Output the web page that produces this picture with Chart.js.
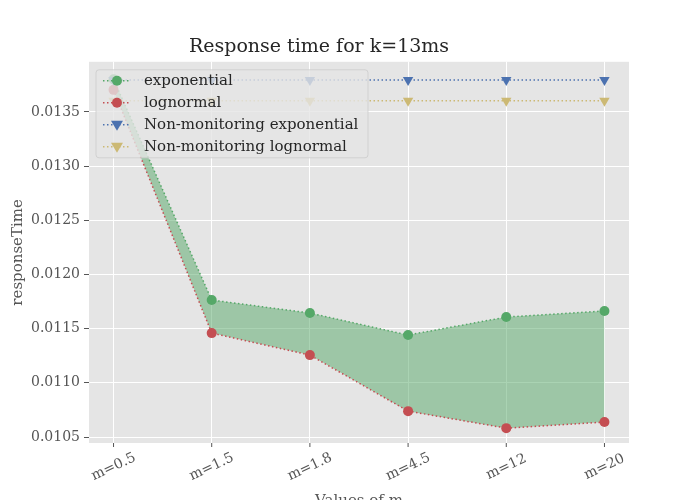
<!DOCTYPE html>
<html>
<head>
<meta charset="utf-8">
<script src="https://cdn.jsdelivr.net/npm/chart.js@4/dist/chart.umd.min.js"></script>
<style>
  body { margin: 0; background: #fff; }
  #wrap { width: 700px; height: 500px; }
</style>
</head>
<body>
<div id="wrap"><canvas id="chart"></canvas></div>
<script>
const categories = ['m=0.5', 'm=1.5', 'm=1.8', 'm=4.5', 'm=12', 'm=20'];
const exponential = [0.01380, 0.011764, 0.011644, 0.011441, 0.011607, 0.011663];
const lognormal = [0.013703, 0.011459, 0.011256, 0.010739, 0.010582, 0.010638];
const nonMonExp = [0.013795, 0.013795, 0.013795, 0.013795, 0.013795, 0.013795];
const nonMonLog = [0.013602, 0.013602, 0.013602, 0.013602, 0.013602, 0.013602];
const yTicks = [0.0105, 0.0110, 0.0115, 0.0120, 0.0125, 0.0130, 0.0135];

const FONT = "'DejaVu Serif', serif";
const pts = arr => arr.map((v, i) => ({ x: i, y: v }));

// plot background
const bgPlugin = {
    id: 'bg',
    beforeDraw(chart) {
        const { ctx, chartArea: a } = chart;
        ctx.save();
        ctx.fillStyle = '#E5E5E5';
        ctx.fillRect(a.left, a.top, a.right - a.left, a.bottom - a.top);
        ctx.restore();
    }
};

// legend inside the plot and rotated x labels, like matplotlib
const legendPlugin = {
    id: 'innerLegend',
    afterDraw(chart) {
        const { ctx, chartArea: a } = chart;
        const xs = chart.scales.x;
        ctx.save();
        // x tick labels, rotated about their centre
        ctx.fillStyle = '#555';
        ctx.font = '14px ' + FONT;
        ctx.textAlign = 'center';
        ctx.textBaseline = 'middle';
        categories.forEach((c, i) => {
            const px = xs.getPixelForValue(i);
            ctx.strokeStyle = '#555';
            ctx.lineWidth = 1;
            ctx.beginPath();
            ctx.moveTo(px, a.bottom);
            ctx.lineTo(px, a.bottom + 4);
            ctx.stroke();
            ctx.save();
            ctx.translate(px, a.bottom + 24);
            ctx.rotate(-25 * Math.PI / 180);
            ctx.fillText(c, 0, 0);
            ctx.restore();
        });
        ctx.textBaseline = 'top';
        ctx.font = '15px ' + FONT;
        ctx.fillText('Values of m', (a.left + a.right) / 2, 494);

        const x = a.left + 7, y = a.top + 8, w = 272, h = 88;
        ctx.fillStyle = 'rgba(229,229,229,0.8)';
        ctx.strokeStyle = 'rgba(204,204,204,0.8)';
        ctx.lineWidth = 1;
        ctx.beginPath();
        ctx.roundRect(x, y, w, h, 3);
        ctx.fill();
        ctx.stroke();
        const items = [
            ['exponential', '#55A868', 'circle'],
            ['lognormal', '#C44E52', 'circle'],
            ['Non-monitoring exponential', '#4C72B0', 'tri'],
            ['Non-monitoring lognormal', '#CCB974', 'tri']
        ];
        ctx.font = '15px ' + FONT;
        ctx.textAlign = 'left';
        ctx.textBaseline = 'middle';
        items.forEach((it, i) => {
            const cy = y + 11 + i * 22;
            ctx.strokeStyle = it[1];
            ctx.lineWidth = 1.5;
            ctx.setLineDash([1.5, 2.5]);
            ctx.beginPath();
            ctx.moveTo(x + 7, cy);
            ctx.lineTo(x + 35, cy);
            ctx.stroke();
            ctx.setLineDash([]);
            ctx.fillStyle = it[1];
            ctx.beginPath();
            if (it[2] === 'circle') {
                ctx.arc(x + 21, cy, 5, 0, Math.PI * 2);
            } else {
                ctx.moveTo(x + 15, cy - 4);
                ctx.lineTo(x + 27, cy - 4);
                ctx.lineTo(x + 21, cy + 6);
                ctx.closePath();
            }
            ctx.fill();
            ctx.fillStyle = '#262626';
            ctx.fillText(it[0], x + 48, cy);
        });
        ctx.restore();
    }
};

function line(label, data, color, style, extra) {
    return Object.assign({
        label: label,
        data: pts(data),
        borderColor: color,
        backgroundColor: color,
        borderWidth: 1.5,
        borderDash: [1.5, 2.5],
        pointStyle: style,
        pointRadius: style === 'circle' ? 5 : 6,
        pointRotation: style === 'triangle' ? 180 : 0,
        pointBorderWidth: 0,
        tension: 0,
        fill: false
    }, extra || {});
}

new Chart(document.getElementById('chart'), {
    type: 'line',
    data: {
        datasets: [
            line('Non-monitoring exponential', nonMonExp, '#4C72B0', 'triangle'),
            line('Non-monitoring lognormal', nonMonLog, '#CCB974', 'triangle'),
            line('lognormal', lognormal, '#C44E52', 'circle'),
            line('exponential', exponential, '#55A868', 'circle',
                { fill: { target: 2, above: 'rgba(85,168,104,0.5)', below: 'rgba(85,168,104,0.5)' } })
        ]
    },
    options: {
        responsive: true,
        maintainAspectRatio: false,
        animation: false,
        layout: { padding: { left: 9, right: 71, top: 0, bottom: 57 } },
        plugins: {
            legend: { display: false },
            filler: { propagate: false },
            title: {
                display: true,
                text: 'Response time for k=13ms',
                color: '#262626',
                font: { family: FONT, size: 19, weight: 'normal' },
                padding: { top: 36, bottom: 3 }
            },
            tooltip: { enabled: false }
        },
        scales: {
            x: {
                type: 'linear',
                min: -0.25,
                max: 5.25,
                afterBuildTicks(s) { s.ticks = categories.map((c, i) => ({ value: i })); },
                ticks: { display: false },
                grid: { color: '#fff', lineWidth: 1, drawTicks: false },
                border: { display: false }
            },
            y: {
                min: 0.010445,
                max: 0.013962,
                afterBuildTicks(s) { s.ticks = yTicks.map(v => ({ value: v })); },
                ticks: {
                    callback: v => v.toFixed(4),
                    color: '#555',
                    font: { family: FONT, size: 14 },
                    padding: 4
                },
                grid: { color: '#fff', lineWidth: 1, tickLength: 5, tickColor: '#555' },
                border: { display: false },
                title: {
                    display: true,
                    text: 'responseTime',
                    color: '#555',
                    font: { family: FONT, size: 15 },
                    padding: 0
                }
            }
        }
    },
    plugins: [bgPlugin, legendPlugin]
});
</script>
</body>
</html>
